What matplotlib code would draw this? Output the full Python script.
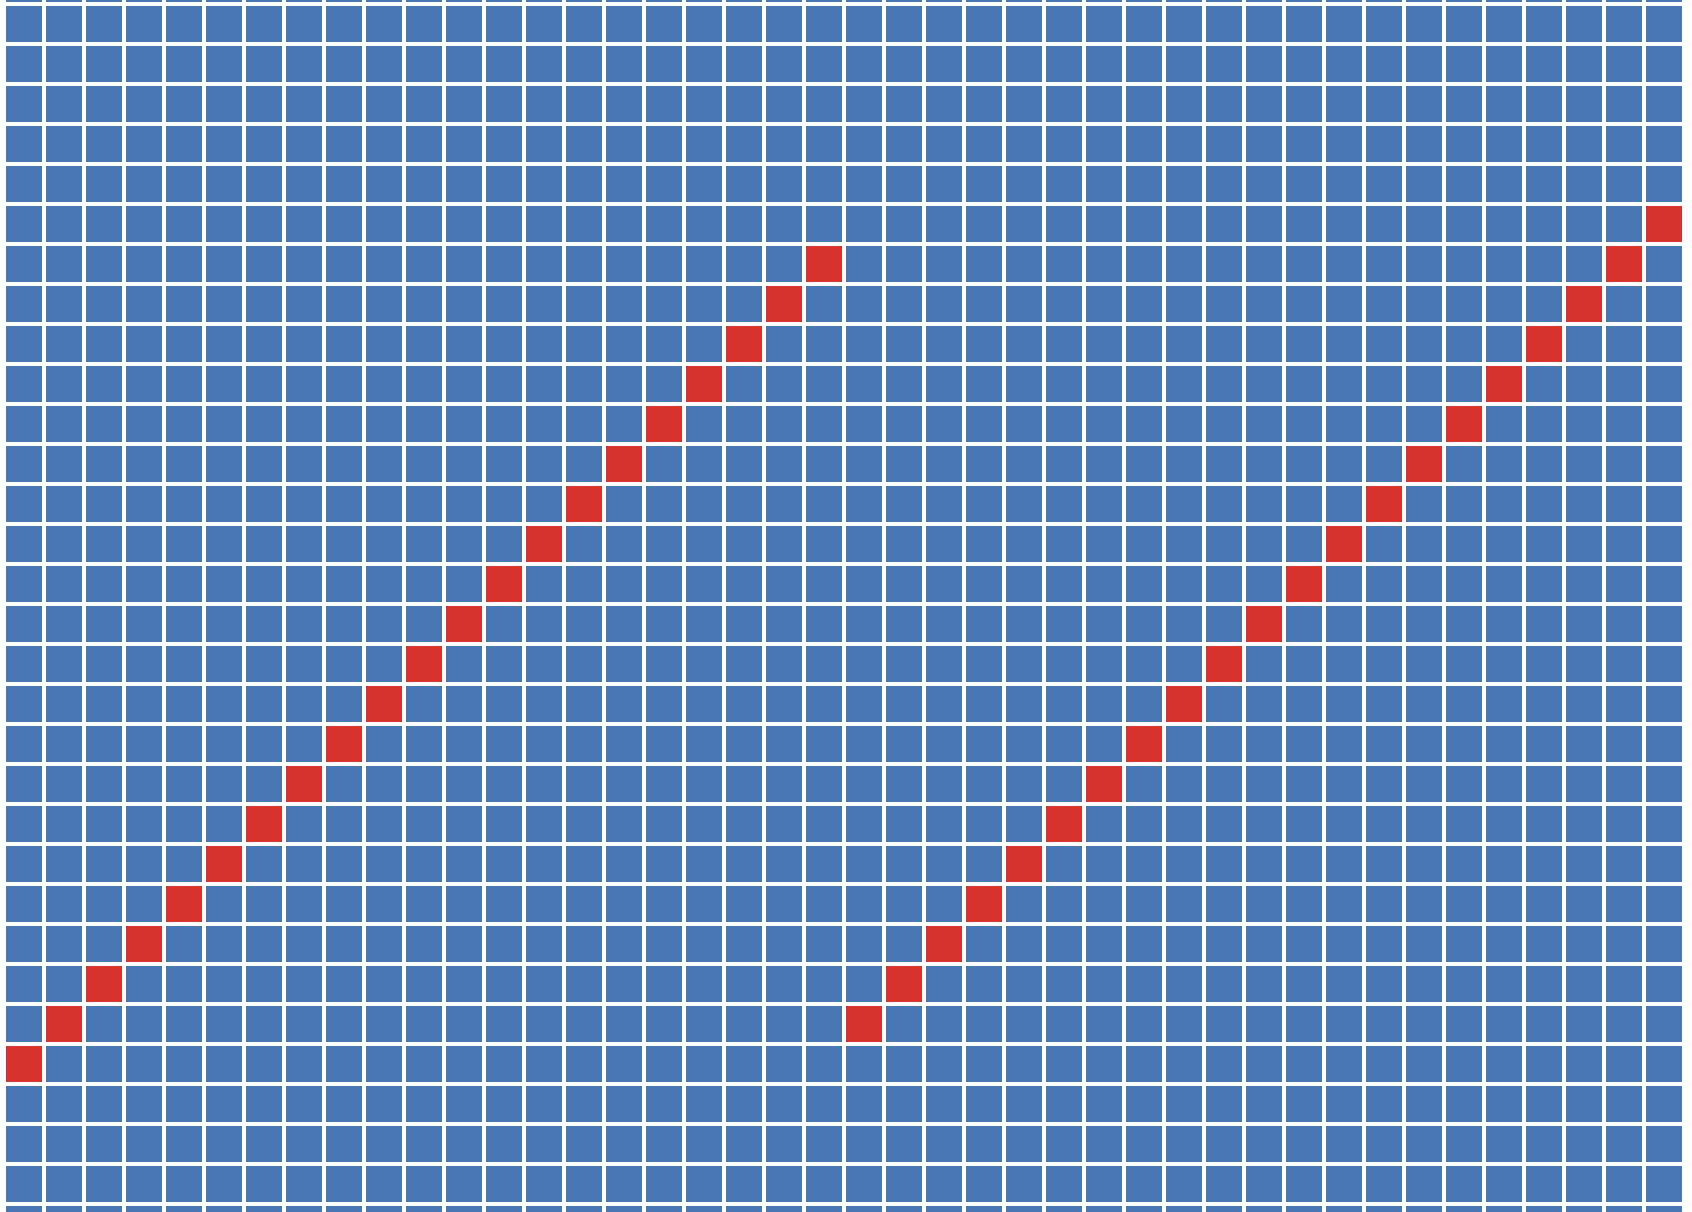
import numpy as np
import matplotlib
matplotlib.use("Agg")
import matplotlib.pyplot as plt
from matplotlib.colors import ListedColormap

# Grid size (visible rows include partial top/bottom rows)
n_cols = 42
n_rows = 32
# Row (counted from top, 0 = partial top row) of the highlighted cell in each column
highlight_rows = [27, 26, 25, 24, 23, 22, 21, 20, 19, 18, 17, 16, 15, 14, 13, 12, 11, 10, 9, 8, 7,
                  26, 25, 24, 23, 22, 21, 20, 19, 18, 17, 16, 15, 14, 13, 12, 11, 10, 9, 8, 7, 6]

grid = np.zeros((n_rows, n_cols))
for c, r in enumerate(highlight_rows):
    grid[r, c] = 1

fig = plt.figure(figsize=(16.92, 12.12), dpi=100)
ax = fig.add_axes([0, 0, 1, 1])
cmap = ListedColormap(["#4877b3", "#d6332f"])
x_edges = np.arange(n_cols + 1) - 0.05
y_edges = np.arange(n_rows + 1) - 0.05
ax.pcolormesh(x_edges, y_edges, grid, cmap=cmap, vmin=0, vmax=1,
              edgecolors="white", linewidth=2.88)
# pixel mapping: 40 px pitch, first full row/col starts at 6 px
ax.set_xlim(-0.15, -0.15 + 1692 / 40)
ax.set_ylim(0.85 + 1212 / 40, 0.85)
ax.axis("off")
fig.savefig("out.png", dpi=100, facecolor="white")
